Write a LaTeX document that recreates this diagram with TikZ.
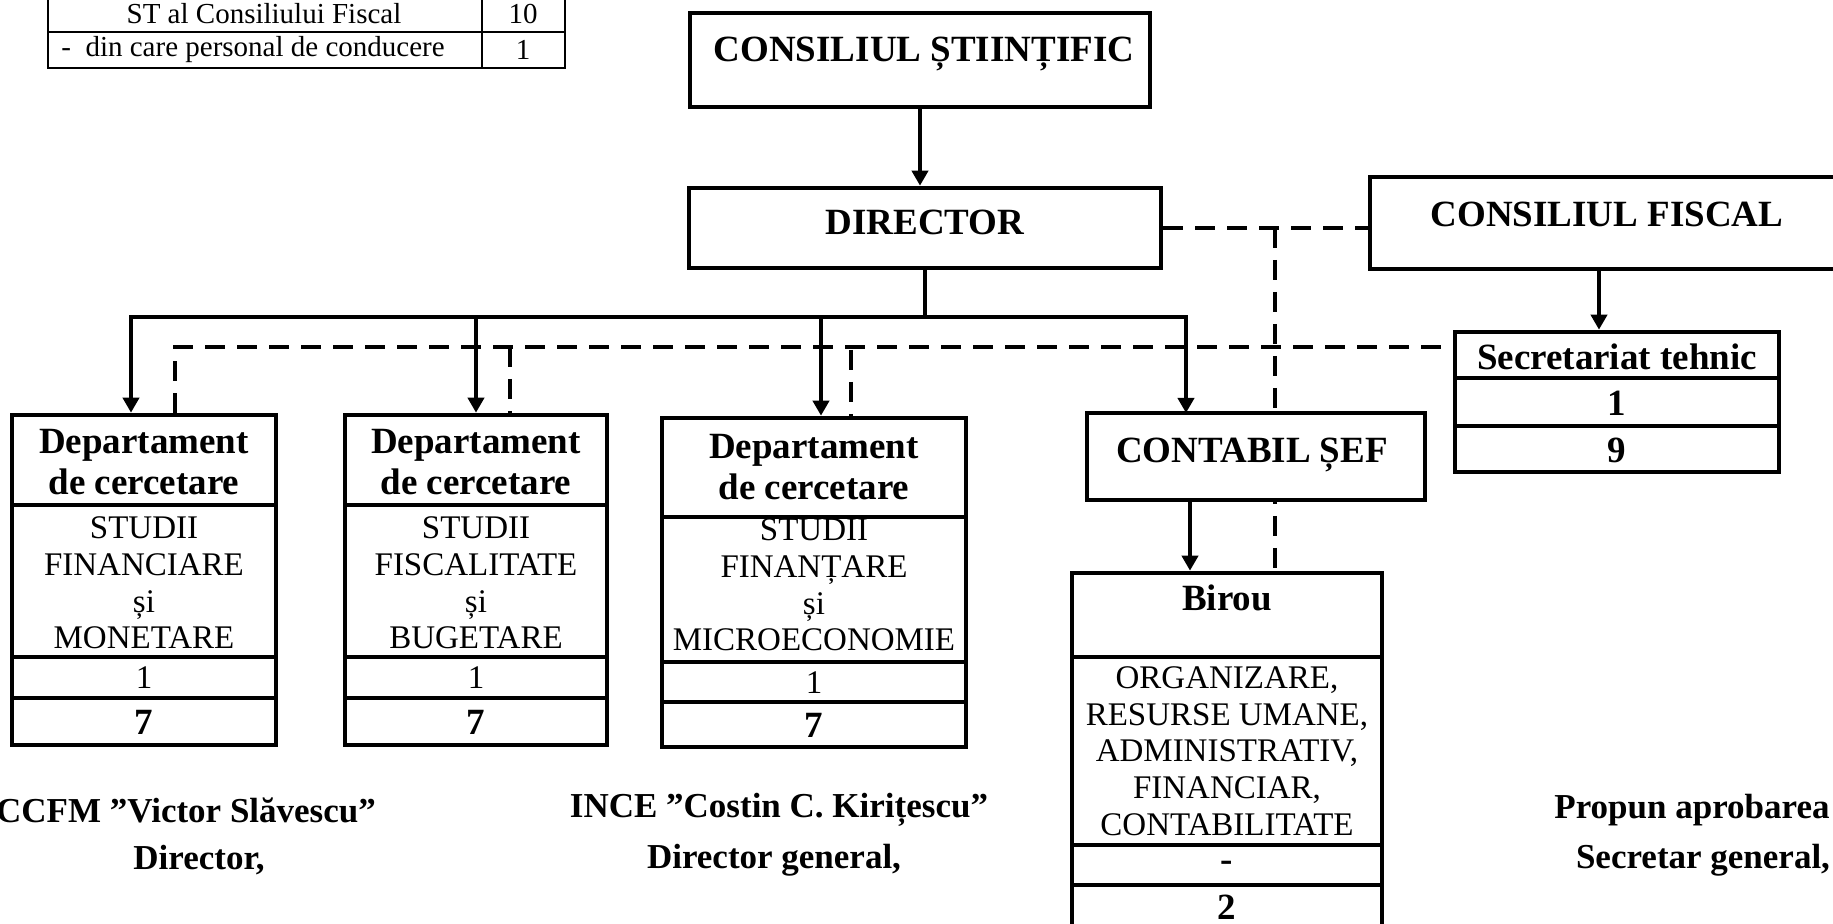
\documentclass[tikz,border=0pt]{standalone}
\usepackage{fontspec}
\setmainfont{Liberation Serif}
\usetikzlibrary{arrows.meta,fit}
\begin{document}
\begin{tikzpicture}[x=0.5pt,y=-0.5pt,
  boxline/.style={draw, line width=2.3pt, fill=white, inner sep=0pt},
  tline/.style={draw, line width=1pt},
  conn/.style={line width=2.2pt},
  sepl/.style={line width=2.3pt},
  arr/.style={conn, -{Triangle[length=7.5pt,width=8pt]}},
  darr/.style={conn, {Triangle[length=7.5pt,width=8pt]}-{Triangle[length=7.5pt,width=8pt]}},
  dsh/.style={line width=1.8pt, dash pattern=on 10pt off 6pt},
  bt/.style={font=\fontsize{18.5}{20.5}\selectfont\bfseries, align=center, inner sep=0pt},
  rt/.style={font=\fontsize{16.5}{18.35}\selectfont, align=center, inner sep=0pt},
  tt/.style={font=\fontsize{14.5}{17}\selectfont, inner sep=0pt},
  st/.style={font=\fontsize{17.5}{20}\selectfont\bfseries, align=center, inner sep=0pt}]
\useasboundingbox (0,0) rectangle (1833,924);
\clip (0,0) rectangle (1833,924);
\fill[white] (0,0) rectangle (1833,924);

% ---- top-left table
\node[tline, fit={(48,-6) (565,68)}, inner sep=0pt] (tab) {};
\draw[tline] (48,32) -- (565,32);
\draw[tline] (482,-6) -- (482,68);
\node[tt] (t1a) at (264,14) {ST al Consiliului Fiscal};
\node[tt] (t1b) at (523,14) {10};
\node[tt, anchor=west] (t2a) at (61,50) {-\ \ din care personal de conducere};
\node[tt] (t2b) at (523,50) {1};

% ---- coordinates for connectors
\coordinate (stem) at (925,317);
\coordinate (b1) at (131,317);
\coordinate (b2) at (476,317);
\coordinate (b3) at (821,317);
\coordinate (b4) at (1186,317);
\coordinate (dl1) at (175,347);
\coordinate (dl2) at (510,347);
\coordinate (dl3) at (851,350);
\coordinate (dv) at (1275,228);
\coordinate (cfa) at (1599,269);
\coordinate (cta) at (1190,500);

% ---- boxes (positions)
\node[boxline, fit={(690,13) (1150,107)}] (cs) {};
\node[boxline, fit={(689,188) (1161,268)}] (dir) {};
\node[boxline, fit={(1370,177) (1860,269)}] (cf) {};
\node[boxline, fit={(1455,332) (1779,472)}] (sec) {};
\node[boxline, fit={(12,415) (276,745)}] (d1) {};
\node[boxline, fit={(345,415) (607,745)}] (d2) {};
\node[boxline, fit={(662,418) (966,747)}] (d3) {};
\node[boxline, fit={(1072,573) (1382,940)}] (bir) {};

% ---- connectors
\draw[arr] (cs.south) -- (cs.south |- dir.north);
\draw[conn] (dir.south) -- (stem);
\draw[darr] (b1 |- d1.north) -- (b1) -- (b4) -- (1186,413);
\draw[arr] (b2) -- (b2 |- d2.north);
\draw[arr] (b3) -- (b3 |- d3.north);
\draw[dsh] (dl1 |- d1.north) -- (dl1) -- (dl1 -| sec.west);
\draw[dsh] (dl2) -- (dl2 |- d2.north);
\draw[dsh] (dl3) -- (dl3 |- d3.north);
\draw[dsh] (dir.east) -- (dir.east -| cf.west);
\draw[dsh] (dv) -- (dv |- bir.north);
\draw[arr] (cfa) -- (cfa |- sec.north);

% contabil box drawn over the dashed line
\node[boxline, fit={(1087,413) (1425,500)}] (ct) {};
\draw[arr] (cta) -- (cta |- bir.north);

% ---- separators
\draw[sepl] (1455,378) -- (1779,378);
\draw[sepl] (1455,426) -- (1779,426);
\draw[sepl] (12,505) -- (276,505);
\draw[sepl] (12,657) -- (276,657);
\draw[sepl] (12,698) -- (276,698);
\draw[sepl] (345,505) -- (607,505);
\draw[sepl] (345,657) -- (607,657);
\draw[sepl] (345,698) -- (607,698);
\draw[sepl] (662,517) -- (966,517);
\draw[sepl] (662,662) -- (966,662);
\draw[sepl] (662,702) -- (966,702);
\draw[sepl] (1072,657) -- (1382,657);
\draw[sepl] (1072,845) -- (1382,845);
\draw[sepl] (1072,885) -- (1382,885);

% ---- texts
\node[bt] (cst) at (924,54) {CONSILIUL ȘTIINȚIFIC};
\node[bt] (dirt) at (925,222) {DIRECTOR};
\node[bt] (cft) at (1607,214) {CONSILIUL FISCAL};
\node[bt] (sect) at (1617,357) {Secretariat tehnic};
\node[bt] (sec1) at (1617,403) {1};
\node[bt] (sec9) at (1617,450) {9};

\node[bt] (d1h) at (144,462) {Departament\\de cercetare};
\node[rt] (d1b) at (144,583) {STUDII\\FINANCIARE\\și\\MONETARE};
\node[rt] (d1n) at (144,678) {1};
\node[bt] (d1m) at (144,722) {7};

\node[bt] (d2h) at (476,462) {Departament\\de cercetare};
\node[rt] (d2b) at (476,583) {STUDII\\FISCALITATE\\și\\BUGETARE};
\node[rt] (d2n) at (476,678) {1};
\node[bt] (d2m) at (476,722) {7};

\node[bt] (d3h) at (814,467) {Departament\\de cercetare};
\node[rt] (d3b) at (814,585) {STUDII\\FINANȚARE\\și\\MICROECONOMIE};
\node[rt] (d3n) at (814,683) {1};
\node[bt] (d3m) at (814,725) {7};

\node[bt] (ctt) at (1252,455) {CONTABIL ȘEF};
\node[bt] (birt) at (1227,598) {Birou};
\node[rt] (birb) at (1227,751) {ORGANIZARE,\\RESURSE UMANE,\\ADMINISTRATIV,\\FINANCIAR,\\CONTABILITATE};
\node[bt] (bir1) at (1227,866) {-};
\node[bt] (bir2) at (1227,907) {2};

\node[st] (ccfm) at (186,810) {CCFM ”Victor Slăvescu”};
\node[st] (dir1) at (199,860) {Director,};
\node[st] (ince) at (779,810) {INCE ”Costin C. Kirițescu”};
\node[st] (dir2) at (774,860) {Director general,};
\node[st] (prop) at (1692,810) {Propun aprobarea};
\node[st] (secg) at (1703,860) {Secretar general,};
\end{tikzpicture}
\end{document}
